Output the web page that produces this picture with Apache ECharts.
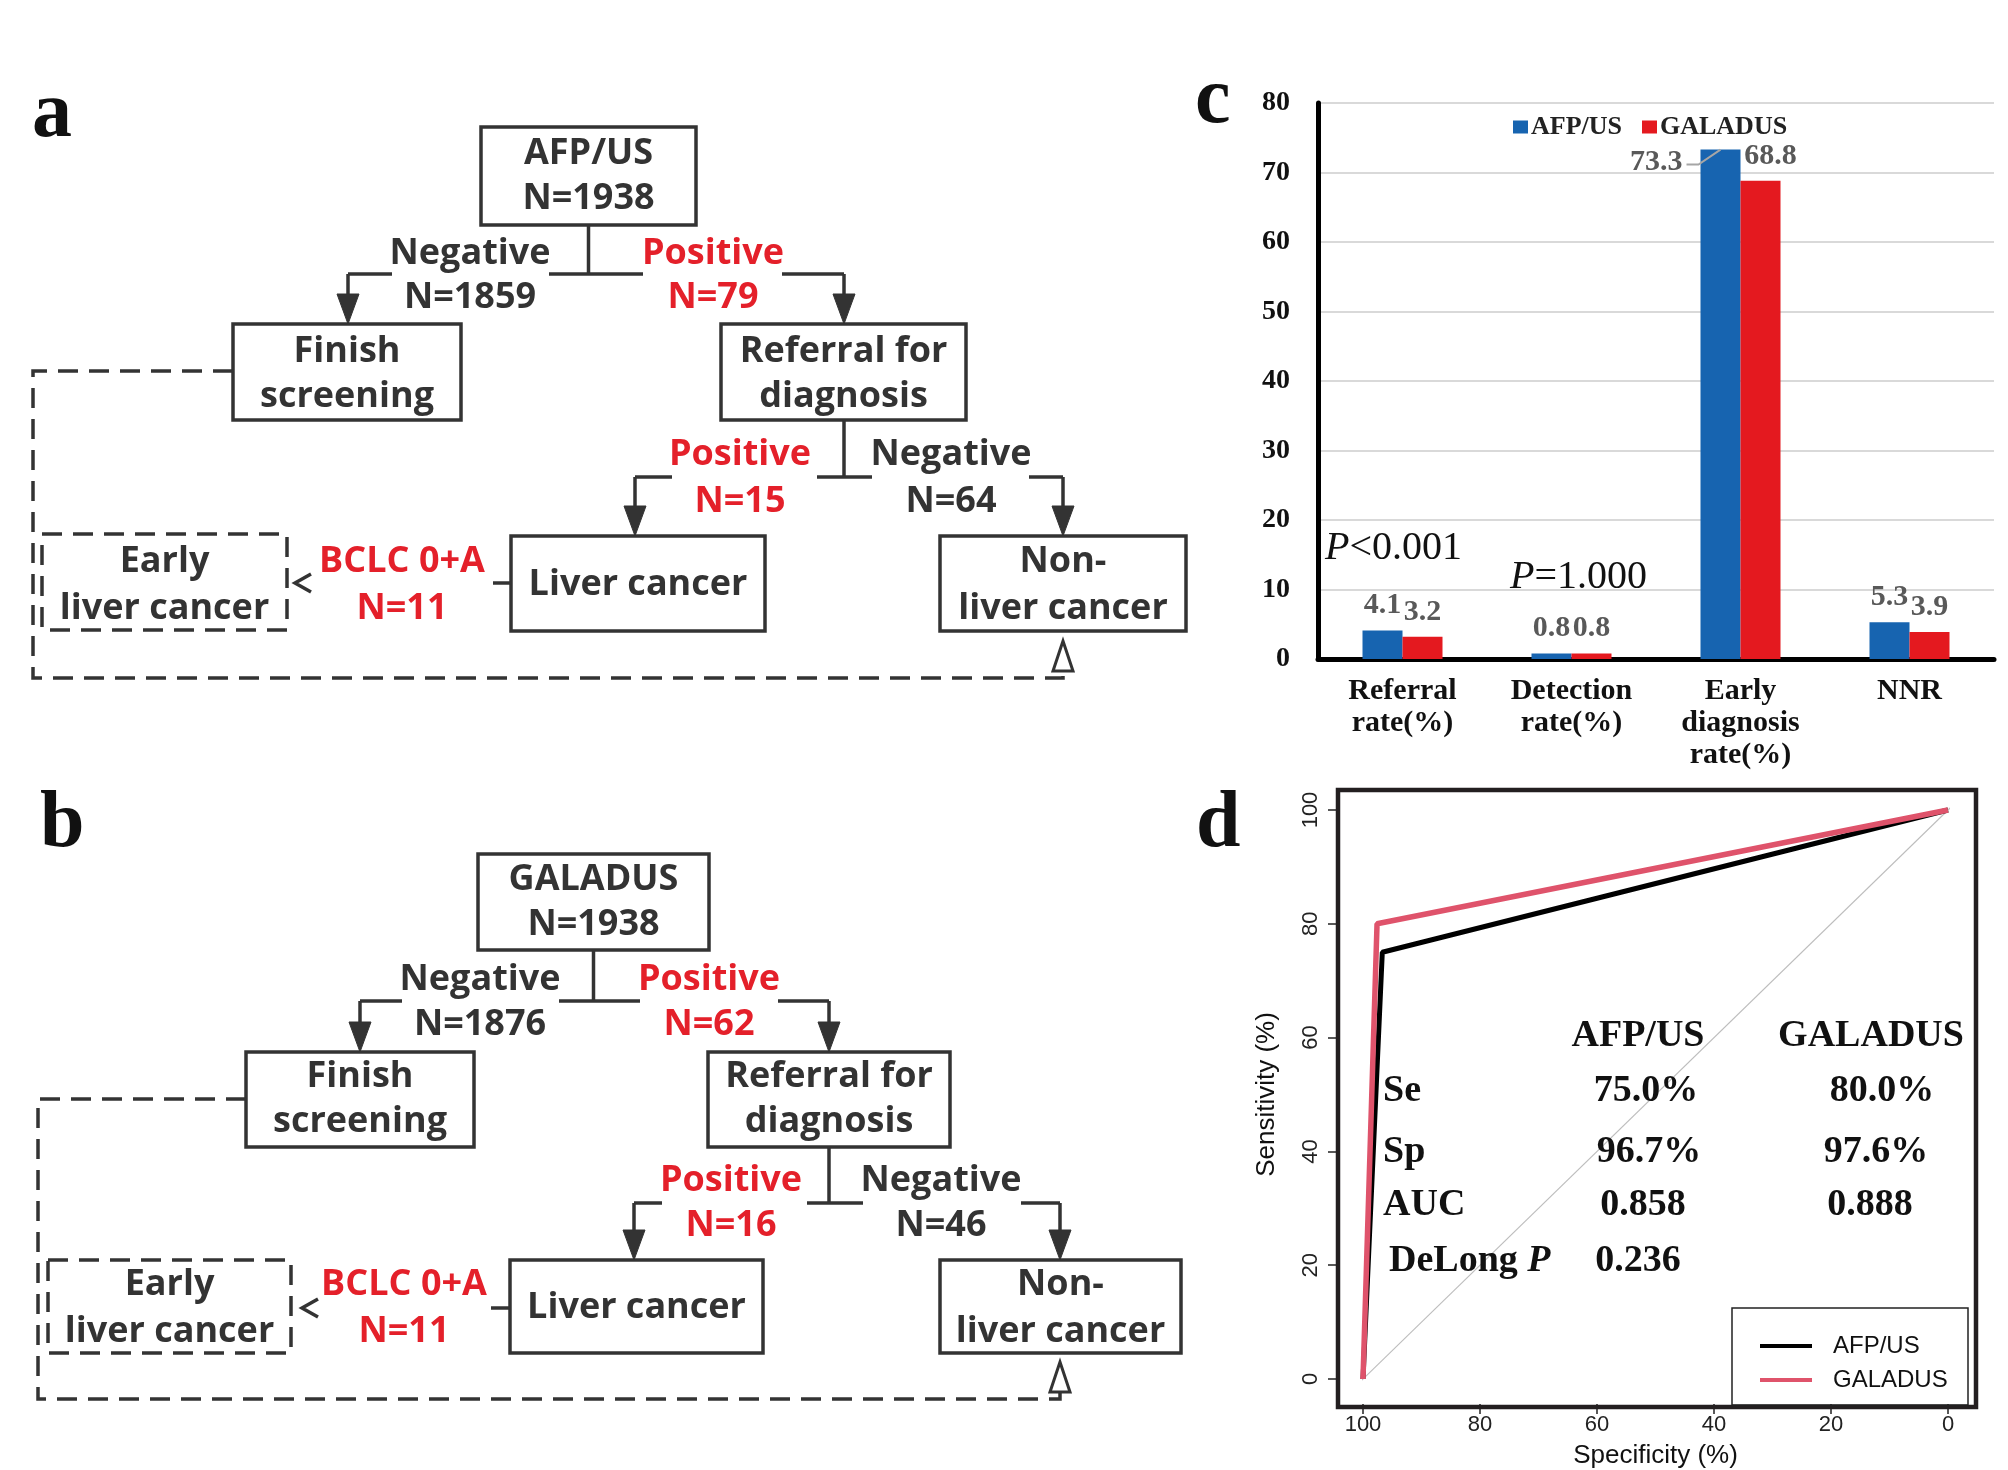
<!DOCTYPE html>
<html>
<head>
<meta charset="utf-8">
<script src="https://cdn.jsdelivr.net/npm/echarts@6/dist/echarts.min.js"></script>
<style>
html,body{margin:0;padding:0;background:#fff;}
#main{width:2008px;height:1470px;}
</style>
</head>
<body>
<div id="main"></div>
<script>
// ---------------- DATA ----------------
// Panel c (bar chart)
const categories = ['Referral\nrate(%)', 'Detection\nrate(%)', 'Early\ndiagnosis\nrate(%)', 'NNR'];
const afpValues = [4.1, 0.8, 73.3, 5.3];
const galadusValues = [3.2, 0.8, 68.8, 3.9];
const barSeriesNames = ['AFP/US', 'GALADUS'];
const pTexts = ['<0.001', '=1.000'];

// Panel d (ROC)
const afpRoc = [[100, 0], [96.7, 75.0], [0, 100]];
const galadusRoc = [[100, 0], [97.6, 80.0], [0, 100]];
const diagonalLine = [[104, -4], [-4, 104]];
const rocHeaders = ['AFP/US', 'GALADUS'];
const rocRowNames = ['Se', 'Sp', 'AUC'];
const rocAfpStats = ['75.0%', '96.7%', '0.858'];
const rocGaladusStats = ['80.0%', '97.6%', '0.888'];
const delongP = '0.236';

// Panels a, b (flow charts)
const flowTitles = ['AFP/US', 'GALADUS'];
const flowTotal = [1938, 1938];
const screenNeg = [1859, 1876];
const screenPos = [79, 62];
const diagPos = [15, 16];
const diagNeg = [64, 46];
const earlyN = [11, 11];

// ---------------- LAYOUT (pixel positions of flow chart shapes) ----------------
const layoutA = {
  top: [481, 696, 127, 225], topText: [154, 199],
  split1Y: 274, negX: 348, posX: 844, seg1: [[348, 392], [549, 643], [782, 844]],
  neg1Lbl: [470, 254, 298], pos1Lbl: [713, 254, 298],
  row2: [324, 420], finish: [233, 461], referral: [721, 966], row2Text: [352, 397],
  split2Y: 477, seg2: [[635, 672], [817, 872], [1029, 1063]], liverX: 635, nonX: 1063,
  pos2Lbl: [740, 455, 502], neg2Lbl: [951, 455, 502],
  row3: [536, 631], liver: [511, 765], non: [940, 1186], early: [42, 287, 534, 630],
  row3Text: [562, 609], liverTextY: 585,
  bclc: [402, 562, 609], link: [493, 511, 583], chevX: 295,
  loop: { y: 371, x: 33, bottom: 678, triTip: 641, triBase: 671 }
};
const layoutB = {
  top: [478, 709, 854, 950], topText: [880, 925],
  split1Y: 1001, negX: 360, posX: 829, seg1: [[360, 402], [559, 640], [778, 829]],
  neg1Lbl: [480, 980, 1025], pos1Lbl: [709, 980, 1025],
  row2: [1052, 1147], finish: [246, 474], referral: [708, 950], row2Text: [1077, 1122],
  split2Y: 1203, seg2: [[634, 662], [807, 863], [1021, 1060]], liverX: 634, nonX: 1060,
  pos2Lbl: [731, 1181, 1226], neg2Lbl: [941, 1181, 1226],
  row3: [1260, 1353], liver: [510, 763], non: [940, 1181], early: [48, 291, 1260, 1353],
  row3Text: [1285, 1332], liverTextY: 1308,
  bclc: [404, 1285, 1332], link: [491, 509, 1308], chevX: 302,
  loop: { y: 1099, x: 38, bottom: 1399, triTip: 1362, triBase: 1392 }
};

const DARK = '#333333';
const RED = '#e4202a';
const LW = 3.5;
const DASH = [20, 11];

function T(text, x, y, color, extra) {
  const st = Object.assign({
    text: text, x: x, y: y, fill: color,
    fontFamily: 'Open Sans', fontSize: 36, fontWeight: 'bold',
    align: 'center', verticalAlign: 'middle',
    textAlign: 'center', textVerticalAlign: 'middle'
  }, extra || {});
  return { type: 'text', z: 20, style: st };
}
function Ln(x1, y1, x2, y2, dash) {
  return { type: 'line', z: 10, shape: { x1, y1, x2, y2 },
    style: { stroke: DARK, lineWidth: LW, lineDash: dash ? DASH : null } };
}
function R(x0, x1, y0, y1, dash) {
  return { type: 'rect', z: 10, shape: { x: x0, y: y0, width: x1 - x0, height: y1 - y0 },
    style: { fill: 'transparent', stroke: DARK, lineWidth: LW, lineDash: dash ? DASH : null } };
}
function arrowDown(e, x, y0, tip) {
  e.push(Ln(x, y0, x, tip - 28));
  e.push({ type: 'polygon', z: 11, shape: { points: [[x - 11, tip - 30], [x + 11, tip - 30], [x, tip]] },
    style: { fill: DARK, stroke: DARK, lineWidth: 1 } });
}

function flowPanel(k, L) {
  const e = [];
  const cx = (L.top[0] + L.top[1]) / 2;
  e.push(R(L.top[0], L.top[1], L.top[2], L.top[3]));
  e.push(T(flowTitles[k], cx, L.topText[0], DARK));
  e.push(T('N=' + flowTotal[k], cx, L.topText[1], DARK));
  e.push(Ln(cx, L.top[3], cx, L.split1Y));
  L.seg1.forEach(s => e.push(Ln(s[0], L.split1Y, s[1], L.split1Y)));
  arrowDown(e, L.negX, L.split1Y, L.row2[0]);
  arrowDown(e, L.posX, L.split1Y, L.row2[0]);
  e.push(T('Negative', L.neg1Lbl[0], L.neg1Lbl[1], DARK));
  e.push(T('N=' + screenNeg[k], L.neg1Lbl[0], L.neg1Lbl[2], DARK));
  e.push(T('Positive', L.pos1Lbl[0], L.pos1Lbl[1], RED));
  e.push(T('N=' + screenPos[k], L.pos1Lbl[0], L.pos1Lbl[2], RED));
  // row 2
  e.push(R(L.finish[0], L.finish[1], L.row2[0], L.row2[1]));
  const fx = (L.finish[0] + L.finish[1]) / 2;
  e.push(T('Finish', fx, L.row2Text[0], DARK));
  e.push(T('screening', fx, L.row2Text[1], DARK));
  e.push(R(L.referral[0], L.referral[1], L.row2[0], L.row2[1]));
  const rx = (L.referral[0] + L.referral[1]) / 2;
  e.push(T('Referral for', rx, L.row2Text[0], DARK));
  e.push(T('diagnosis', rx, L.row2Text[1], DARK));
  e.push(Ln(L.posX, L.row2[1], L.posX, L.split2Y));
  L.seg2.forEach(s => e.push(Ln(s[0], L.split2Y, s[1], L.split2Y)));
  arrowDown(e, L.liverX, L.split2Y, L.row3[0]);
  arrowDown(e, L.nonX, L.split2Y, L.row3[0]);
  e.push(T('Positive', L.pos2Lbl[0], L.pos2Lbl[1], RED));
  e.push(T('N=' + diagPos[k], L.pos2Lbl[0], L.pos2Lbl[2], RED));
  e.push(T('Negative', L.neg2Lbl[0], L.neg2Lbl[1], DARK));
  e.push(T('N=' + diagNeg[k], L.neg2Lbl[0], L.neg2Lbl[2], DARK));
  // row 3
  e.push(R(L.liver[0], L.liver[1], L.row3[0], L.row3[1]));
  e.push(T('Liver cancer', (L.liver[0] + L.liver[1]) / 2, L.liverTextY, DARK));
  e.push(R(L.non[0], L.non[1], L.row3[0], L.row3[1]));
  const nx = (L.non[0] + L.non[1]) / 2;
  e.push(T('Non-', nx, L.row3Text[0], DARK));
  e.push(T('liver cancer', nx, L.row3Text[1], DARK));
  e.push(R(L.early[0], L.early[1], L.early[2], L.early[3], true));
  const ex = (L.early[0] + L.early[1]) / 2;
  e.push(T('Early', ex, L.row3Text[0], DARK));
  e.push(T('liver cancer', ex, L.row3Text[1], DARK));
  e.push(T('BCLC 0+A', L.bclc[0], L.bclc[1], RED));
  e.push(T('N=' + earlyN[k], L.bclc[0], L.bclc[2], RED));
  e.push(Ln(L.link[0], L.link[2], L.link[1], L.link[2]));
  e.push({ type: 'polyline', z: 10, shape: { points: [[L.chevX + 16, L.link[2] - 9], [L.chevX, L.link[2]], [L.chevX + 16, L.link[2] + 9]] },
    style: { stroke: DARK, lineWidth: LW, fill: null } });
  // dashed feedback loop
  e.push({ type: 'polyline', z: 10, shape: { points: [
      [L.finish[0], L.loop.y], [L.loop.x, L.loop.y], [L.loop.x, L.loop.bottom],
      [L.nonX, L.loop.bottom], [L.nonX, L.loop.triBase]] },
    style: { stroke: DARK, lineWidth: LW, lineDash: DASH, fill: null } });
  e.push({ type: 'polygon', z: 11, shape: { points: [[L.nonX - 10, L.loop.triBase], [L.nonX + 10, L.loop.triBase], [L.nonX, L.loop.triTip]] },
    style: { fill: '#fff', stroke: DARK, lineWidth: 3 } });
  return e;
}

function panelLetter(ch, x, y) {
  return { type: 'text', z: 30, style: { text: ch, x: x, y: y, fill: '#111',
    fontFamily: 'Liberation Serif', fontSize: 80, fontWeight: 'bold',
    align: 'left', verticalAlign: 'bottom', textAlign: 'left', textVerticalAlign: 'bottom' } };
}

function serifText(text, x, y, size, align, rich) {
  const st = { text: text, x: x, y: y, fill: '#111', fontFamily: 'Liberation Serif', fontSize: size,
    fontWeight: 'bold', align: align, verticalAlign: 'middle', textAlign: align, textVerticalAlign: 'middle' };
  if (rich) st.rich = rich;
  return { type: 'text', z: 30, style: st };
}

function baseGraphics() {
  let g = [];
  g = g.concat(flowPanel(0, layoutA));
  g = g.concat(flowPanel(1, layoutB));
  g.push(panelLetter('a', 32, 155));
  g.push(panelLetter('b', 40, 865));
  g.push(panelLetter('c', 1195, 141));
  g.push(panelLetter('d', 1196, 865));
  // P values in panel c
  const pRich = {
    i: { fontFamily: 'Liberation Serif', fontSize: 40, fontStyle: 'italic', fill: '#111' },
    n: { fontFamily: 'Liberation Serif', fontSize: 40, fill: '#111' }
  };
  g.push({ type: 'text', z: 30, style: { text: '{i|P}{n|' + pTexts[0] + '}', x: 1325, y: 548, rich: pRich,
    align: 'left', verticalAlign: 'middle', textAlign: 'left', textVerticalAlign: 'middle' } });
  g.push({ type: 'text', z: 30, style: { text: '{i|P}{n|' + pTexts[1] + '}', x: 1510, y: 577, rich: pRich,
    align: 'left', verticalAlign: 'middle', textAlign: 'left', textVerticalAlign: 'middle' } });
  // ROC frame + legend box
  g.push({ type: 'rect', z: 5, shape: { x: 1338, y: 790, width: 638, height: 617 },
    style: { fill: 'transparent', stroke: '#231f20', lineWidth: 4.5 } });
  g.push({ type: 'rect', z: 6, shape: { x: 1732, y: 1308, width: 236, height: 97 },
    style: { fill: 'transparent', stroke: '#222', lineWidth: 1.5 } });
  // ROC stats table
  g.push(serifText(rocHeaders[0], 1638, 1036, 38, 'center'));
  g.push(serifText(rocHeaders[1], 1871, 1036, 38, 'center'));
  const rowsY = [1091, 1152, 1205];
  const afpX = [1646, 1649, 1643];
  const galX = [1882, 1876, 1870];
  rocRowNames.forEach((nm, i) => {
    g.push(serifText(nm, 1383, rowsY[i], 38, 'left'));
    g.push(serifText(rocAfpStats[i], afpX[i], rowsY[i], 38, 'center'));
    g.push(serifText(rocGaladusStats[i], galX[i], rowsY[i], 38, 'center'));
  });
  const bRich = {
    b: { fontFamily: 'Liberation Serif', fontSize: 38, fontWeight: 'bold', fill: '#111' },
    bi: { fontFamily: 'Liberation Serif', fontSize: 38, fontWeight: 'bold', fontStyle: 'italic', fill: '#111' }
  };
  g.push({ type: 'text', z: 30, style: { text: '{b|DeLong }{bi|P}', x: 1389, y: 1261, rich: bRich,
    align: 'left', verticalAlign: 'middle', textAlign: 'left', textVerticalAlign: 'middle' } });
  g.push(serifText(delongP, 1638, 1261, 38, 'center'));
  return g;
}

const BAR_W = 40;
const serif = 'Liberation Serif';

function buildOption(extraGraphics) {
  return {
    animation: false,
    backgroundColor: '#ffffff',
    grid: [
      { left: 1318, top: 103, width: 676, height: 556 },
      { left: 1363, top: 810, width: 585, height: 572 }
    ],
    legend: [
      { data: barSeriesNames, left: 1508, top: 109, icon: 'rect', itemWidth: 15, itemHeight: 13, itemGap: 20,
        textStyle: { fontFamily: serif, fontWeight: 'bold', fontSize: 26, color: '#222', padding: [0, 0, 0, -2] } },
      { data: [{ name: 'AFP/US ', icon: 'rect' }, { name: 'GALADUS ', icon: 'rect' }],
        orient: 'vertical', left: 1755, top: 1329, itemWidth: 52, itemHeight: 4, itemGap: 10,
        formatter: n => n.trim(),
        textStyle: { fontFamily: 'Liberation Sans', fontSize: 24, lineHeight: 24, color: '#111', padding: [0, 0, 0, 16] } }
    ],
    xAxis: [
      { type: 'category', gridIndex: 0, data: categories, boundaryGap: true,
        axisLine: { show: true, onZero: false, lineStyle: { color: '#000', width: 5 } },
        axisTick: { show: false },
        axisLabel: { fontFamily: serif, fontWeight: 'bold', fontSize: 30, color: '#111', lineHeight: 32, margin: 16, interval: 0 },
        splitLine: { show: false } },
      { type: 'value', gridIndex: 1, min: 0, max: 100, interval: 20, inverse: true, offset: 25, position: 'bottom',
        name: 'Specificity (%)', nameLocation: 'middle', nameGap: 39,
        nameTextStyle: { fontFamily: 'Liberation Sans', fontSize: 26, color: '#111' },
        axisLine: { show: false, onZero: false },
        axisTick: { show: true, length: 10, inside: false, lineStyle: { color: '#222', width: 1.5 } },
        axisLabel: { fontFamily: 'Liberation Sans', fontSize: 22, color: '#222', margin: 10 },
        splitLine: { show: false } }
    ],
    yAxis: [
      { type: 'value', gridIndex: 0, min: 0, max: 80, interval: 10,
        axisLine: { show: true, onZero: false, lineStyle: { color: '#000', width: 5 } },
        axisTick: { show: false },
        axisLabel: { fontFamily: serif, fontWeight: 'bold', fontSize: 28, color: '#111', margin: 28 },
        splitLine: { show: true, lineStyle: { color: '#d9d9d9', width: 2 } } },
      { type: 'value', gridIndex: 1, min: 0, max: 100, interval: 20, offset: 25, position: 'left',
        name: 'Sensitivity (%)', nameLocation: 'middle', nameGap: 58, nameRotate: 90,
        nameTextStyle: { fontFamily: 'Liberation Sans', fontSize: 26, color: '#111' },
        axisLine: { show: false, onZero: false },
        axisTick: { show: true, length: 10, inside: false, lineStyle: { color: '#222', width: 1.5 } },
        axisLabel: { fontFamily: 'Liberation Sans', fontSize: 22, color: '#222', margin: 16, rotate: 90 },
        splitLine: { show: false } }
    ],
    series: [
      { name: barSeriesNames[0], type: 'bar', xAxisIndex: 0, yAxisIndex: 0, barWidth: BAR_W, barGap: '0%',
        itemStyle: { color: '#1764b0' },
        label: { show: true, position: 'top', distance: 10, fontFamily: serif, fontWeight: 'bold', fontSize: 30, color: '#595959' },
        data: afpValues.map((v, i) => i === 2 ? { value: v, label: { position: [-18, 13], align: 'right', verticalAlign: 'middle' } } : v) },
      { name: barSeriesNames[1], type: 'bar', xAxisIndex: 0, yAxisIndex: 0, barWidth: BAR_W, barGap: '0%',
        itemStyle: { color: '#e4191f' },
        label: { show: true, position: 'top', distance: 10, fontFamily: serif, fontWeight: 'bold', fontSize: 30, color: '#595959' },
        data: galadusValues.map((v, i) => i === 2 ? { value: v, label: { offset: [10, 0] } } : v) },
      { name: 'diagonal', type: 'line', xAxisIndex: 1, yAxisIndex: 1, symbol: 'none', clip: false, silent: true,
        lineStyle: { color: '#bdbdbd', width: 1.2 }, data: diagonalLine, z: 2 },
      { name: 'AFP/US ', type: 'line', xAxisIndex: 1, yAxisIndex: 1, symbol: 'none', clip: false,
        lineStyle: { color: '#000000', width: 5 }, itemStyle: { color: '#000000' }, data: afpRoc, z: 3 },
      { name: 'GALADUS ', type: 'line', xAxisIndex: 1, yAxisIndex: 1, symbol: 'none', clip: false,
        lineStyle: { color: '#df536b', width: 5.5 }, itemStyle: { color: '#df536b' }, data: galadusRoc, z: 4 }
    ],
    graphic: { elements: baseGraphics().concat(extraGraphics || []) }
  };
}

const chart = echarts.init(document.getElementById('main'), null, { renderer: 'canvas', width: 2008, height: 1470 });
chart.setOption(buildOption([]));
// leader line for the 73.3 label, from the library's own scale
const p = chart.convertToPixel({ xAxisIndex: 0, yAxisIndex: 0 }, [2, afpValues[2]]);
const barTopX = p[0] - BAR_W / 2;
const leader = { type: 'polyline', z: 25, shape: { points: [[barTopX - 34, p[1] + 15], [barTopX - 22, p[1] + 15], [barTopX, p[1]]] },
  style: { stroke: '#a6a6a6', lineWidth: 2, fill: null } };
chart.setOption(buildOption([leader]), true);
</script>
</body>
</html>
